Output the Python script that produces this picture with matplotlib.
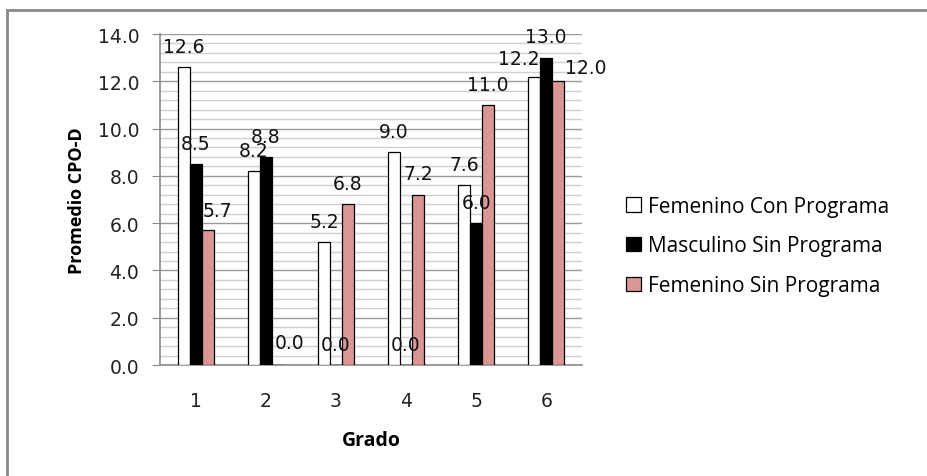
import matplotlib.pyplot as plt
import numpy as np
from matplotlib.lines import Line2D
from matplotlib.ticker import MultipleLocator

grados = [1, 2, 3, 4, 5, 6]
fem_con = [12.6, 8.2, 5.2, 9.0, 7.6, 12.2]
masc_sin = [8.5, 8.8, 0.0, 0.0, 6.0, 13.0]
fem_sin = [5.7, 0.0, 6.8, 7.2, 11.0, 12.0]
series_names = ["Femenino Con Programa", "Masculino Sin Programa", "Femenino Sin Programa"]

colors = ["white", "black", "#d99694"]
# labels that got pushed aside to avoid overlaps: (series, group) -> (dx, dy) in points
nudge = {(2, 0): (7, 14), (2, 1): (8.5, 16), (0, 5): (-11, 13), (2, 5): (20, 10)}

fig = plt.figure(figsize=(9.27, 4.77), dpi=100)
ax = fig.add_axes([0.1726, 0.2327, 0.4552, 0.6939])

x = np.arange(len(grados)) + 1
w = 0.17
data = [fem_con, masc_sin, fem_sin]
for i, (vals, c, name) in enumerate(zip(data, colors, series_names)):
	pos = x + (i - 1) * w
	ax.bar(pos, vals, width=w, color=c, edgecolor="black", linewidth=0.9, label=name, zorder=3)
	for j, v in enumerate(vals):
		dx, dy = nudge.get((i, j), (0, 15))
		ax.annotate(f"{v:.1f}", (pos[j], v), xytext=(dx, dy), textcoords="offset points",
			ha="center", va="center", fontsize=13.5, color="#111111", zorder=4)

ax.set_xlim(0.49, 6.51)
ax.set_ylim(0, 14)
ax.yaxis.set_major_locator(MultipleLocator(2))
ax.yaxis.set_minor_locator(MultipleLocator(0.4))
ax.yaxis.set_major_formatter(lambda v, p: f"{v:.1f}")
ax.set_xticks(x)
ax.set_xticklabels([str(g) for g in grados])
ax.grid(axis="y", which="major", color="#9a9a9a", linewidth=1.0, zorder=0)
ax.grid(axis="y", which="minor", color="#cfcfcf", linewidth=1.0, zorder=0)
ax.set_axisbelow(True)

for s in ["top", "right"]:
	ax.spines[s].set_visible(False)
for s in ["left", "bottom"]:
	ax.spines[s].set_color("#8a8a8a")
	ax.spines[s].set_linewidth(1.2)

ax.tick_params(axis="y", which="major", length=6, color="#8a8a8a", labelsize=13.5, pad=9, labelcolor="#222222")
ax.tick_params(axis="y", which="minor", length=0)
ax.tick_params(axis="x", length=0, labelsize=13.5, pad=19, labelcolor="#222222")

ax.set_xlabel("Grado", fontsize=14, fontweight="bold", family="Open Sans", labelpad=14)
ax.set_ylabel("Promedio CPO-D", fontsize=13, fontweight="bold", family="Open Sans", labelpad=8)

leg = ax.legend(loc="center left", bbox_to_anchor=(1.06, 0.36), frameon=False,
	prop={"family": "Open Sans", "size": 15}, handlelength=0.7, handleheight=0.7,
	handletextpad=0.35, labelspacing=0.9)

# chart area border
fig.add_artist(Line2D([7 / 927, 7 / 927], [0, 1 - 11 / 477], color="#8a8a8a", linewidth=2))
fig.add_artist(Line2D([7 / 927, 1], [1 - 11 / 477, 1 - 11 / 477], color="#8a8a8a", linewidth=2))

fig.savefig("out.png", dpi=100)
